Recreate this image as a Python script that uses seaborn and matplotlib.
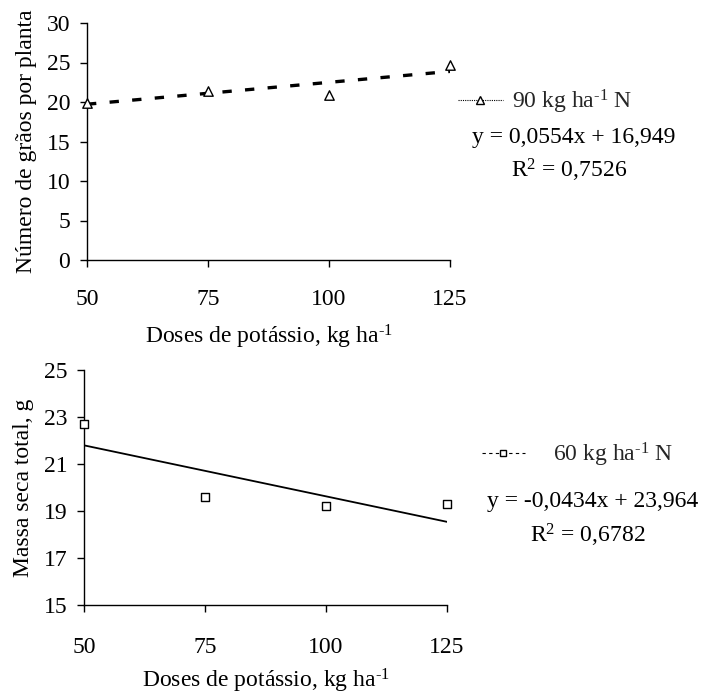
import matplotlib
matplotlib.use("Agg")
import matplotlib.pyplot as plt
from matplotlib.lines import Line2D
import seaborn as sns
import numpy as np
import pandas as pd

# Doses of potassium (kg/ha)
doses = [50, 75, 100, 125]
x_ticks = [50, 75, 100, 125]

# Grains per plant at 90 kg/ha N
graos = [19.9, 21.4, 20.9, 24.7]
graos_slope, graos_intercept = 0.0554, 16.949
graos_r2 = "0,7526"
graos_ticks = [0, 5, 10, 15, 20, 25, 30]

# Total dry mass at 60 kg/ha N
massa = [22.7, 19.6, 19.2, 19.3]
massa_slope, massa_intercept = -0.0434, 23.964
massa_r2 = "0,6782"
massa_ticks = [15, 17, 19, 21, 23, 25]

sns.set_theme(style="white")
plt.rcParams["font.family"] = ["Liberation Serif", "DejaVu Serif"]
plt.rcParams["mathtext.fontset"] = "custom"
plt.rcParams["mathtext.rm"] = "Liberation Serif"
plt.rcParams["mathtext.it"] = "Liberation Serif:italic"
plt.rcParams["mathtext.default"] = "rm"

FS = 17
W, H = 702, 694
fig = plt.figure(figsize=(W / 100, H / 100), dpi=100)


def px_axes(left, right, top, bottom):
    return fig.add_axes([left / W, 1 - bottom / H, (right - left) / W, (bottom - top) / H])


ax1 = px_axes(87, 450, 23, 260)
ax2 = px_axes(84, 447, 370, 605)

df1 = pd.DataFrame({"dose": doses, "valor": graos})
df2 = pd.DataFrame({"dose": doses, "valor": massa})
ends = np.array([doses[0], doses[-1]], dtype=float)
fit1 = pd.DataFrame({"dose": ends, "valor": graos_slope * ends + graos_intercept})
fit2 = pd.DataFrame({"dose": ends, "valor": massa_slope * ends + massa_intercept})

# Top panel: grains per plant with dashed linear fit
sns.lineplot(data=fit1, x="dose", y="valor", ax=ax1, color="black",
             linewidth=2.4, dashes=False, linestyle=(0, (2.8, 4)))
sns.scatterplot(data=df1, x="dose", y="valor", ax=ax1, marker="^", s=46,
                facecolor="white", edgecolor="black", linewidth=1.0,
                clip_on=False, zorder=5)

# Bottom panel: dry mass with solid linear fit
sns.lineplot(data=fit2, x="dose", y="valor", ax=ax2, color="black", linewidth=1.3)
sns.scatterplot(data=df2, x="dose", y="valor", ax=ax2, marker="s", s=36,
                facecolor="white", edgecolor="black", linewidth=1.0,
                clip_on=False, zorder=5)

xlabel = r"Doses de potássio, kg ha$^{\text{-}1}$"
for ax, yt, ylab, xpad, lpad in [(ax1, graos_ticks, "Número de grãos por planta", 16, 9),
                                 (ax2, massa_ticks, "Massa seca total, g", 18, 6.5)]:
    ax.set_xlim(x_ticks[0], x_ticks[-1])
    ax.set_ylim(yt[0], yt[-1])
    ax.set_xticks(x_ticks)
    ax.set_yticks(yt)
    ax.tick_params(axis="both", which="major", direction="out", length=5,
                   width=1.0, color="black", labelsize=FS, labelcolor="black",
                   bottom=True, left=True)
    ax.tick_params(axis="x", pad=xpad)
    ax.tick_params(axis="y", pad=7)
    for side in ["top", "right"]:
        ax.spines[side].set_visible(False)
    for side in ["left", "bottom"]:
        ax.spines[side].set_color("black")
        ax.spines[side].set_linewidth(1.0)
    ax.set_xlabel(xlabel, fontsize=FS, color="black", labelpad=lpad)
    ax.set_ylabel(ylab, fontsize=FS, color="black", labelpad=7)
    ax.set_facecolor("white")

# Legends with series labels
h1 = Line2D([], [], color="black", linestyle=(0, (1, 1)), linewidth=0.8,
            marker="^", markersize=6, markerfacecolor="white",
            markeredgecolor="black", markeredgewidth=1.0)
h2 = Line2D([], [], color="black", linestyle=(0, (3, 3)), linewidth=0.8,
            marker="s", markersize=4.5, markerfacecolor="white",
            markeredgecolor="black", markeredgewidth=1.0)
leg1 = fig.legend([h1], [r"90 kg ha$^{\text{-}1}$ N"], loc="center left",
                  bbox_to_anchor=(458 / W, 1 - 102 / H), frameon=False,
                  fontsize=FS, handlelength=1.9, handletextpad=0.4,
                  borderpad=0, borderaxespad=0)
leg2 = fig.legend([h2], [r"60 kg ha$^{\text{-}1}$ N"], loc="center left",
                  bbox_to_anchor=(482 / W, 1 - 455 / H), frameon=False,
                  fontsize=FS, handlelength=1.8, handletextpad=1.2,
                  borderpad=0, borderaxespad=0)

# Regression equations
fig.text(574 / W, 1 - 138 / H, "y = 0,0554x + 16,949", fontsize=FS,
         ha="center", va="center", color="black")
fig.text(569 / W, 1 - 170 / H, "R$^{2}$ = " + graos_r2, fontsize=FS,
         ha="center", va="center", color="black")
fig.text(593 / W, 1 - 502 / H, "y = -0,0434x + 23,964", fontsize=FS,
         ha="center", va="center", color="black")
fig.text(588 / W, 1 - 535 / H, "R$^{2}$ = " + massa_r2, fontsize=FS,
         ha="center", va="center", color="black")

fig.savefig("out.png", dpi=100, facecolor="white")
